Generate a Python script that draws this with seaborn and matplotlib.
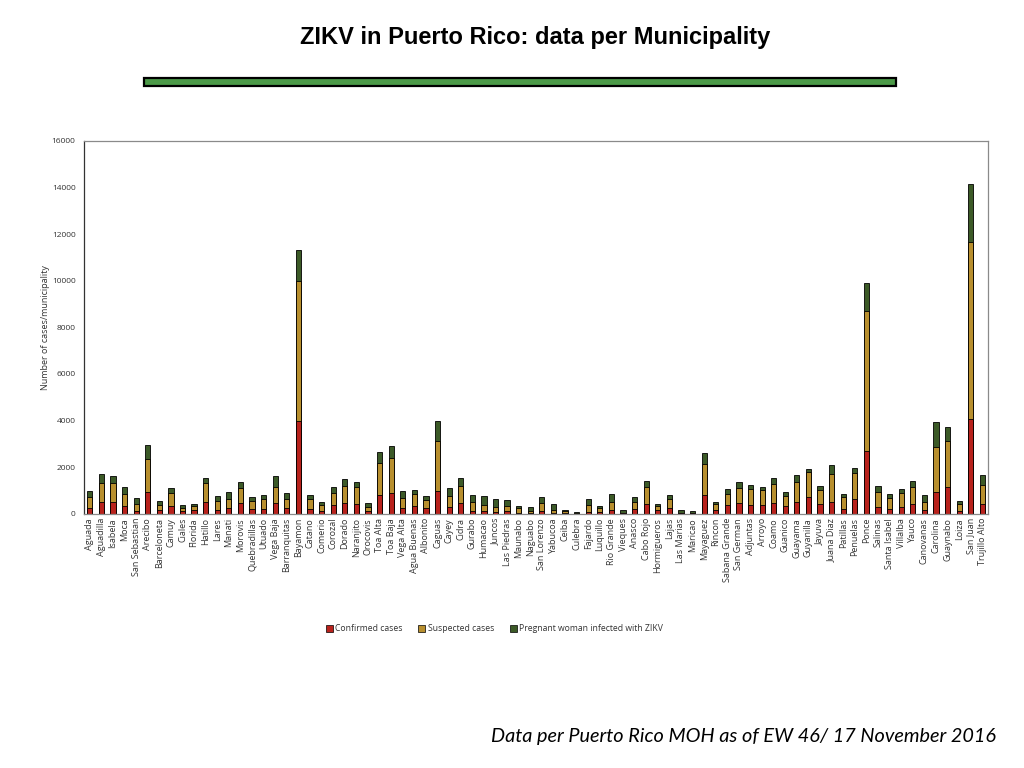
import matplotlib
matplotlib.use("Agg")
import matplotlib.pyplot as plt
from matplotlib.patches import Patch, Rectangle
import pandas as pd
import seaborn as sns

# ZIKV cases per municipality, Puerto Rico MOH, EW 46 / 17 Nov 2016
municipalities = [
    "Aguada", "Aguadilla", "Isabela", "Moca", "San Sebastian", "Arecibo", "Barceloneta",
    "Camuy", "Ciales", "Florida", "Hatillo", "Lares", "Manati", "Morovis", "Quebradillas",
    "Utuado", "Vega Baja", "Barranquitas", "Bayamon", "Catano", "Comerio", "Corozal",
    "Dorado", "Naranjito", "Orocovis", "Toa Alta", "Toa Baja", "Vega Alta", "Agua Buenas",
    "Albonito", "Caguas", "Cayey", "Cidra", "Gurabo", "Humacao", "Juncos", "Las Piedras",
    "Maunabo", "Naguabo", "San Lorenzo", "Yabucoa", "Ceiba", "Culebra", "Fajardo",
    "Luquillo", "Rio Grande", "Vieques", "Anasco", "Cabo Rojo", "Hormigueros", "Lajas",
    "Las Marias", "Maricao", "Mayaguez", "Rincon", "Sabana Grande", "San German",
    "Adjuntas", "Arroyo", "Coamo", "Guanico", "Guayama", "Guyanilla", "Jayuva",
    "Juana Diaz", "Patillas", "Penuelas", "Ponce", "Salinas", "Santa Isabel", "Villalba",
    "Yauco", "Canovanas", "Carolina", "Guaynabo", "Loiza", "San Juan", "Trujillo Alto",
]
confirmed = [
    257, 515, 515, 329, 129, 915, 157, 329, 129, 143, 500, 157, 257, 458, 200, 215, 458, 229,
    3975, 215, 129, 372, 458, 415, 100, 815, 887, 257, 329, 243, 987, 300, 458, 129, 100, 72,
    100, 29, 20, 114, 29, 15, 10, 86, 72, 157, 20, 215, 415, 143, 243, 20, 15, 801, 172, 372,
    458, 358, 386, 458, 329, 500, 715, 415, 486, 215, 629, 2703, 286, 215, 286, 415, 157, 944,
    1144, 114, 4089, 415,
]
suspected = [
    458, 800, 800, 515, 286, 1430, 201, 558, 114, 186, 815, 386, 372, 643, 343, 414, 700, 415,
    6035, 414, 229, 515, 729, 729, 200, 1358, 1501, 401, 515, 343, 2131, 472, 729, 371, 272,
    214, 215, 214, 80, 344, 128, 114, 10, 286, 157, 329, 30, 300, 729, 200, 386, 30, 25, 1316,
    228, 458, 643, 700, 615, 814, 443, 858, 1059, 615, 1230, 500, 1116, 6019, 629, 457, 601,
    729, 329, 1902, 1974, 286, 7567, 815,
]
pregnant = [
    272, 386, 301, 300, 271, 601, 200, 200, 115, 100, 215, 215, 286, 272, 158, 172, 458, 257,
    1302, 158, 142, 271, 300, 200, 158, 487, 529, 329, 186, 186, 872, 329, 329, 287, 400, 358,
    286, 100, 200, 271, 243, 43, 40, 272, 100, 344, 93, 186, 272, 86, 172, 93, 74, 500, 86,
    228, 243, 158, 143, 258, 143, 286, 142, 157, 371, 115, 214, 1175, 258, 186, 185, 257, 329,
    1072, 600, 143, 2487, 429,
]
series_names = ["Confirmed cases", "Suspected cases", "Pregnant woman infected with ZIKV"]
colors = ["#B8221C", "#B88F2E", "#3C5A27"]

df = pd.DataFrame({"municipality": municipalities, "confirmed": confirmed,
                   "suspected": suspected, "pregnant": pregnant})
df["lvl1"] = df["confirmed"]
df["lvl2"] = df["confirmed"] + df["suspected"]
df["lvl3"] = df["lvl2"] + df["pregnant"]

sns.set_style("white")
plt.rcParams["font.family"] = ["Open Sans", "DejaVu Sans"]

fig = plt.figure(figsize=(10.24, 7.68), dpi=100)
ax = fig.add_axes([0.082, 0.331, 0.883, 0.4855])

# stacked bars: draw the totals first, then overlay the lower levels
for col, c in zip(["lvl3", "lvl2", "lvl1"], colors[::-1]):
    sns.barplot(data=df, x="municipality", y=col, order=municipalities, color=c,
                width=0.45, edgecolor="black", linewidth=0.6, saturation=1, ax=ax)

ax.set_ylim(0, 16000)
ax.set_xlim(-0.5, len(municipalities) - 0.5)
ax.set_yticks(range(0, 16001, 2000))
ax.tick_params(axis="y", labelsize=6, length=0, pad=6, colors="#333333")
ax.tick_params(axis="x", labelsize=6.5, length=0, pad=3, rotation=90, colors="#333333")
ax.set_xlabel("")
ax.set_ylabel("Number of cases/municipality", fontsize=6.5, color="#333333", labelpad=1)
for s in ax.spines.values():
    s.set_color("#8a8a8a")
    s.set_linewidth(0.9)
ax.spines["left"].set_color("#333333")

handles = [Patch(facecolor=c, edgecolor="black", linewidth=0.5) for c in colors]
fig.legend(handles, series_names, loc="center", bbox_to_anchor=(0.483, 0.181), ncol=3,
           frameon=False, fontsize=6.2, handlelength=0.8, handleheight=0.8,
           handletextpad=0.3, columnspacing=1.8, labelcolor="#333333")

fig.text(0.523, 0.951, "ZIKV in Puerto Rico: data per Municipality", ha="center", va="center",
         fontsize=17, fontweight="bold", color="black",
         family=["Liberation Sans", "DejaVu Sans"])
fig.patches.append(Rectangle((0.141, 0.888), 0.734, 0.011, transform=fig.transFigure,
                             facecolor="#4C9A48", edgecolor="black", linewidth=1.6))
fig.text(0.973, 0.041, "Data per Puerto Rico MOH as of EW 46/ 17 November 2016",
         ha="right", va="center", fontsize=14.3, style="italic", color="black",
         family=["Lato", "DejaVu Sans"])

fig.savefig("out.png", dpi=100)
